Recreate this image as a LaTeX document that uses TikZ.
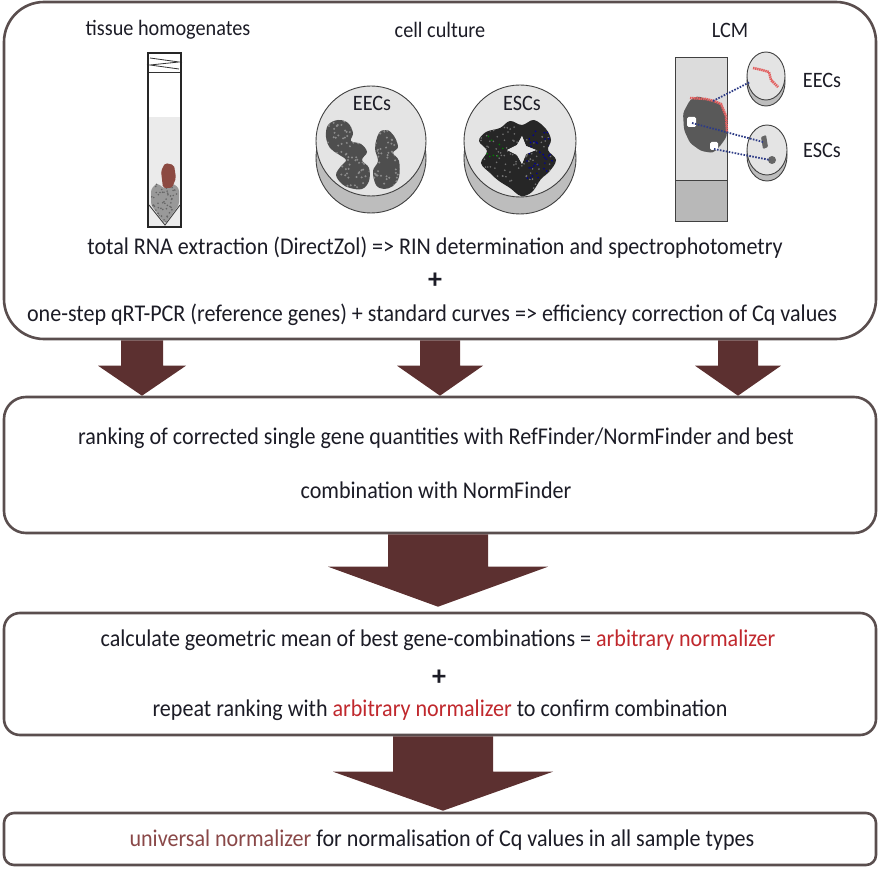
\documentclass[tikz,border=0pt]{standalone}
\usepackage{fontspec}
\usepackage{graphicx}
\setmainfont{Carlito}
\usetikzlibrary{calc}
\definecolor{arrowc}{HTML}{5C3030}
\definecolor{borderc}{HTML}{5A4E4E}
\definecolor{txt}{HTML}{1C1C26}
\definecolor{redt}{HTML}{C0282D}
\definecolor{brownt}{HTML}{8A4848}
\definecolor{dishtop}{HTML}{E4E4E4}
\definecolor{dishside}{HTML}{BDBDBD}
\definecolor{cellg}{HTML}{4E4E4E}
\definecolor{tissuer}{HTML}{8C4A42}
\definecolor{slidel}{HTML}{DCDCDC}
\definecolor{slided}{HTML}{B8B8B8}
\definecolor{dotblue}{HTML}{2E3C86}
\definecolor{lcmred}{HTML}{E26060}
\newcommand{\sqz}[1]{\scalebox{0.92}[1]{#1}}
\tikzset{
  flowbox/.style={draw=borderc, line width=2.6pt, fill=white, minimum width=872pt, inner sep=0pt},
  maintext/.style={text=txt, font=\fontsize{24}{28}\selectfont, inner sep=0pt},
  labeltext/.style={text=txt, font=\fontsize{22}{24}\selectfont, inner sep=0pt},
  plustext/.style={text=txt, font=\fontsize{28}{30}\selectfont\bfseries, inner sep=0pt},
  arrowfill/.style={fill=arrowc},
  outl/.style={draw=black!75, line width=0.9pt},
  linkline/.style={draw=dotblue, line width=1.8pt, dash pattern=on 1.6pt off 1.4pt},
}
\newcommand{\blockarrow}[5]{%
  \fill[arrowfill] ($(#1)+(-#3,0)$) -- ($(#1)+(#3,0)$) -- ($(#2)+(#3,-#5)$) -- ($(#2)+(#4,-#5)$)
    -- (#2) -- ($(#2)+(-#4,-#5)$) -- ($(#2)+(-#3,-#5)$) -- cycle;}
\begin{document}
\begin{tikzpicture}[x=1pt,y=-1pt]
\useasboundingbox (0,0) rectangle (880,874);
\pgfmathsetseed{7}
% ---------- boxes ----------
\node[flowbox, minimum height=337pt, rounded corners=40pt] (box1) at (440,170.5) {};
\node[flowbox, minimum height=136pt, rounded corners=22pt] (box2) at (440,465) {};
\node[flowbox, minimum height=122pt, rounded corners=16pt] (box3) at (440,674) {};
\node[flowbox, minimum height=52pt, rounded corners=10pt] (box4) at (440,839) {};
% ---------- arrows ----------
\coordinate (a1s) at (142,0 |- box1.south); \coordinate (a1e) at (142,0 |- box2.north);
\coordinate (a2s) at (440,0 |- box1.south); \coordinate (a2e) at (440,0 |- box2.north);
\coordinate (a3s) at (738,0 |- box1.south); \coordinate (a3e) at (738,0 |- box2.north);
\coordinate (a4s) at (438,0 |- box2.south); \coordinate (a4e) at ($(438,0 |- box3.north)+(0,-5)$);
\coordinate (a5s) at (443,0 |- box3.south); \coordinate (a5e) at ($(443,0 |- box4.north)+(0,-1)$);
\blockarrow{a1s}{a1e}{21}{44}{30}
\blockarrow{a2s}{a2e}{20}{43}{30}
\blockarrow{a3s}{a3e}{20}{43}{30}
\blockarrow{a4s}{a4e}{50}{110}{40}
\blockarrow{a5s}{a5e}{50}{110}{39}
% ---------- top labels ----------
\node[labeltext] (lblth) at (168,30) {\sqz{tissue homogenates}};
\node[labeltext] (lblcc) at (440,30) {\sqz{cell culture}};
\node[labeltext] (lbllcm) at (730,30) {\sqz{LCM}};
% ---------- tube ----------
\fill[black!8] (149,117) rectangle (180,226);
\fill[black!40, rounded corners=3pt] (151,189) -- (157,183) -- (165,189) -- (172,183) -- (179,188) -- (179,205) -- (165,224) -- (151,205) -- cycle;
\begin{scope}
\clip (151,189) -- (157,183) -- (165,189) -- (172,183) -- (179,188) -- (179,205) -- (165,224) -- (151,205) -- cycle;
\foreach \i in {1,...,70} {\fill[black!60] ({165+rand*14},{204+rand*20}) circle (0.9);}
\end{scope}
\fill[tissuer, rounded corners=2pt] (161,171) -- (165,163) -- (174,165) -- (176,178) -- (172,188) -- (163,188) -- cycle;
\draw[black!80, line width=0.8pt] (149,205) -- (165,225) -- (180,205);
\draw[black!80, line width=0.8pt] (150,58) -- (179,62) -- (150,65) -- (179,69);
\draw[black!80, line width=0.8pt] (148,72) -- (181,72);
\draw[black!85, line width=1.6pt] (148,53) rectangle (181,227);
% ---------- EEC dish ----------
\fill[dishside] (371,158) circle (55);
\draw[outl] (371,158) circle (55);
\fill[dishtop] (371,141) circle (55);
\draw[outl] (371,141) circle (55);
\node[labeltext] (lbleec1) at (372,103) {\sqz{EECs}};
\def\eecA{(328,125) (338,120) (348,123) (353,133) (351,141) (361,144) (367,152) (362,160) (369,168) (369,181) (362,189) (350,188) (342,184) (336,175) (341,166) (346,160) (338,154) (330,148) (326,137)}
\def\eecB{(379,133) (387,130) (394,136) (398,147) (393,153) (399,161) (399,177) (393,186) (384,189) (376,185) (373,171) (378,161) (375,148)}
\fill[cellg] plot[smooth cycle, tension=0.6] coordinates {\eecA};
\fill[cellg] plot[smooth cycle, tension=0.6] coordinates {\eecB};
\begin{scope}
\clip plot[smooth cycle, tension=0.6] coordinates {\eecA};
\foreach \i in {1,...,110} {\fill[black!45] ({347+rand*24},{154+rand*36}) circle (1.1);}
\end{scope}
\begin{scope}
\clip plot[smooth cycle, tension=0.6] coordinates {\eecB};
\foreach \i in {1,...,60} {\fill[black!45] ({386+rand*14},{160+rand*30}) circle (1.1);}
\end{scope}
% ---------- ESC dish ----------
\fill[dishside] (520,158) circle (56);
\draw[outl] (520,158) circle (56);
\fill[dishtop] (520,141) circle (56);
\draw[outl] (520,141) circle (56);
\node[labeltext] (lblesc1) at (522,103) {\sqz{ESCs}};
\def\escA{(486,132) (500,128) (510,121) (522,125) (534,120) (546,129) (551,140) (548,150) (556,160) (549,172) (541,179) (532,192) (521,196) (510,188) (499,181) (490,173) (481,163) (487,151) (479,141)}
\fill[black!85, even odd rule] plot[smooth cycle, tension=0.6] coordinates {\escA}
  (522,136) -- (526,146) -- (536,150) -- (526,154) -- (522,164) -- (517,155) -- (507,150) -- (517,145) -- cycle;
\begin{scope}
\clip plot[smooth cycle, tension=0.6] coordinates {\escA};
\foreach \i in {1,...,120} {\fill[black!55] ({518+rand*38},{158+rand*38}) circle (0.9);}
\foreach \i in {1,...,45} {\fill[blue!60!black] ({540+rand*14},{155+rand*25}) circle (0.9);}
\foreach \i in {1,...,8} {\fill[green!50!black] ({495+rand*12},{150+rand*15}) circle (0.9);}
\end{scope}
\fill[dishtop] (522,136) -- (526,146) -- (536,150) -- (526,154) -- (522,164) -- (517,155) -- (507,150) -- (517,145) -- cycle;
% ---------- LCM slide ----------
\fill[slidel] (675,57) rectangle (727,180);
\fill[slided] (675,180) rectangle (727,221);
\draw[black!75, line width=0.9pt] (675,57) rectangle (727,221);
\draw[black!75, line width=0.9pt] (675,180) -- (727,180);
\fill[black!65, rounded corners=3pt] (690,100) -- (697,96) -- (706,99) -- (714,101) -- (721,104) -- (726,116) -- (727,136) -- (721,145) -- (713,153) -- (701,151) -- (690,143) -- (684,130) -- (683,113) -- cycle;
\draw[lcmred, line width=2.5pt, dash pattern=on 1.5pt off 0.6pt] (690,98) -- (706,99) -- (714,101) -- (721,104) -- (726,116) -- (727,132);
\fill[white, rounded corners=1.5pt] (687,117) rectangle (696,127);
\fill[white, rounded corners=1.5pt] (710,142) rectangle (718,150);
% small dishes
\fill[dishside] (766,82) ellipse (19 and 24);
\draw[outl] (766,82) ellipse (19 and 24);
\fill[dishtop] (766,76) ellipse (19 and 24);
\draw[outl] (766,76) ellipse (19 and 24);
\draw[lcmred, line width=2.5pt, dash pattern=on 1.5pt off 0.6pt] (753,68) -- (762,70) -- (769,72) -- (771,80) -- (778,87);
\fill[dishside] (767,156) ellipse (20 and 25);
\draw[outl] (767,156) ellipse (20 and 25);
\fill[dishtop] (767,150) ellipse (20 and 25);
\draw[outl] (767,150) ellipse (20 and 25);
\fill[black!60, rounded corners=1pt] (761,137) -- (766,135) -- (768,147) -- (763,149) -- cycle;
\fill[black!60] (772,160) circle (4);
% dotted links
\draw[linkline] (713,101) -- (750,82);
\draw[linkline] (692,123) -- (763,142);
\draw[linkline] (714,149) -- (770,160);
\node[labeltext] (lbleec2) at (822,80) {\sqz{EECs}};
\node[labeltext] (lblesc2) at (822,150) {\sqz{ESCs}};
% ---------- box 1 text ----------
\node[maintext] (t1a) at (435,248) {\sqz{total RNA extraction (DirectZol) => RIN determination and spectrophotometry}};
\node[plustext] (t1p) at (435,281) {+};
\node[maintext] (t1b) at (432,315) {\sqz{one-step qRT-PCR (reference genes) + standard curves => efficiency correction of Cq values}};
% ---------- box 2 text ----------
\node[maintext] (t2a) at (436,438) {\sqz{ranking of corrected single gene quantities with RefFinder/NormFinder and best}};
\node[maintext] (t2b) at (436,490) {\sqz{combination with NormFinder}};
% ---------- box 3 text ----------
\node[maintext] (t3a) at (438,640) {\sqz{calculate geometric mean of best gene-combinations = \textcolor{redt}{arbitrary normalizer}}};
\node[plustext] (t3p) at (439,678) {+};
\node[maintext] (t3b) at (440,710) {\sqz{repeat ranking with \textcolor{redt}{arbitrary normalizer} to confirm combination}};
% ---------- box 4 text ----------
\node[maintext] (t4) at (442,840) {\sqz{\textcolor{brownt}{universal normalizer} for normalisation of Cq values in all sample types}};
\end{tikzpicture}
\end{document}
